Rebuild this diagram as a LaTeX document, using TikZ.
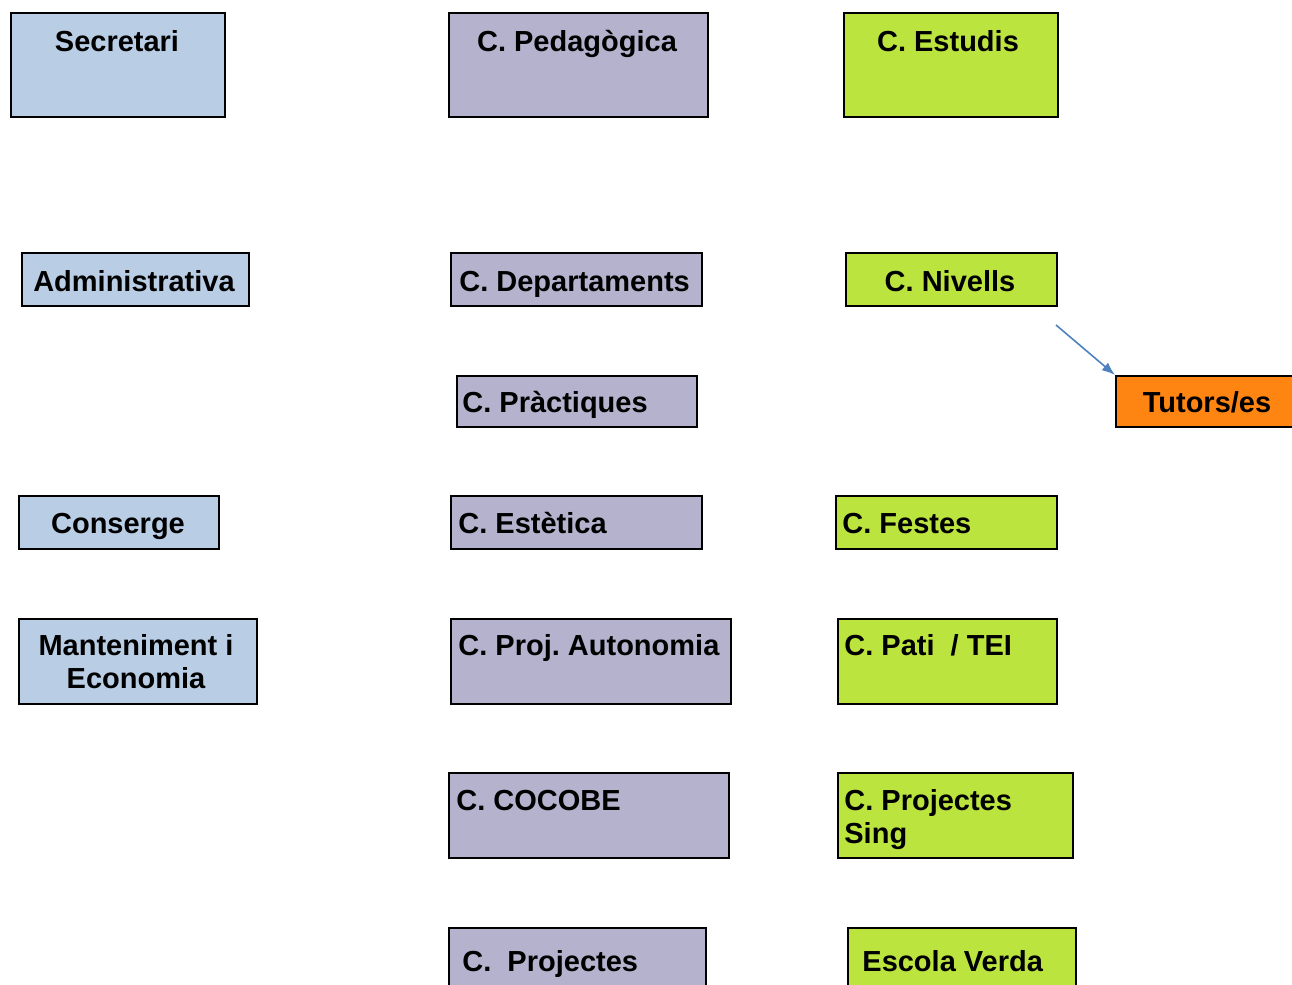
\documentclass[tikz,border=0pt]{standalone}
\usepackage{fontspec}
\setmainfont{Liberation Sans}
\usetikzlibrary{arrows.meta}
\frenchspacing

\definecolor{secblue}{RGB}{185,205,229}
\definecolor{pedlila}{RGB}{180,178,204}
\definecolor{estgreen}{RGB}{188,228,62}
\definecolor{tutorange}{RGB}{255,133,18}
\definecolor{arrblue}{RGB}{79,129,189}

\begin{document}
\begin{tikzpicture}[x=0.5pt, y=-0.5pt, >=Latex,
  bx/.style={draw=black, line width=1pt, anchor=north west, inner sep=0pt},
  lbl/.style={inner sep=0pt, font=\bfseries\fontsize{14.5}{16.5}\selectfont,
              text height=10.4pt, text depth=0pt},
  lbltwo/.style={inner sep=0pt, font=\bfseries\fontsize{14.5}{16.5}\selectfont}]

\def\px{0.5pt}

\useasboundingbox (0,0) rectangle (1292,985);
\clip (0,0) rectangle (1292,985);

% secretari
\node[bx, fill=secblue, minimum width=214*\px, minimum height=104*\px] (secr) at (10,12) {};
\node[lbl] (secrtxt) at (117,41) {Secretari};
\node[bx, fill=secblue, minimum width=227*\px, minimum height=53*\px] (admin) at (21,252) {};
\node[lbl] (admintxt) at (134,281) {Administrativa};
\node[bx, fill=secblue, minimum width=200*\px, minimum height=53*\px] (consg) at (18,495) {};
\node[lbl] (consgtxt) at (118,523) {Conserge};
\node[bx, fill=secblue, minimum width=238*\px, minimum height=85*\px] (mant) at (18,618) {};
\node[lbltwo, align=center] (manttxt) at (136,662) {Manteniment i\\Economia};

% comissio pedagogica
\node[bx, fill=pedlila, minimum width=259*\px, minimum height=104*\px] (peda) at (448,12) {};
\node[lbl] (pedatxt) at (577,41) {C. Pedagògica};
\node[bx, fill=pedlila, minimum width=251*\px, minimum height=53*\px] (dept) at (450,252) {};
\node[lbl, anchor=west] (depttxt) at (459,281) {C. Departaments};
\node[bx, fill=pedlila, minimum width=240*\px, minimum height=51*\px] (prac) at (456,375) {};
\node[lbl, anchor=west] (practxt) at (462,402) {C. Pràctiques};
\node[bx, fill=pedlila, minimum width=251*\px, minimum height=53*\px] (este) at (450,495) {};
\node[lbl, anchor=west] (estetxt) at (458,523) {C. Estètica};
\node[bx, fill=pedlila, minimum width=280*\px, minimum height=85*\px] (auto) at (450,618) {};
\node[lbl, anchor=west] (autotxt) at (458,645) {C. Proj. Autonomia};
\node[bx, fill=pedlila, minimum width=280*\px, minimum height=85*\px] (cocobe) at (448,772) {};
\node[lbl, anchor=west] (cocobetxt) at (456,800) {C. COCOBE};
\node[bx, fill=pedlila, minimum width=257*\px, minimum height=80*\px] (proj) at (448,927) {};
\node[lbl, anchor=west] (projtxt) at (462,961) {C.\ \ Projectes};

% comissio estudis
\node[bx, fill=estgreen, minimum width=214*\px, minimum height=104*\px] (estu) at (843,12) {};
\node[lbl] (estutxt) at (948,41) {C. Estudis};
\node[bx, fill=estgreen, minimum width=211*\px, minimum height=53*\px] (nive) at (845,252) {};
\node[lbl] (nivetxt) at (950,281) {C. Nivells};
\node[bx, fill=tutorange, minimum width=200*\px, minimum height=51*\px] (tuto) at (1115,375) {};
\node[lbl] (tutotxt) at (1207,402) {Tutors/es};
\node[bx, fill=estgreen, minimum width=221*\px, minimum height=53*\px] (fest) at (835,495) {};
\node[lbl, anchor=west] (festtxt) at (842,523) {C. Festes};
\node[bx, fill=estgreen, minimum width=219*\px, minimum height=85*\px] (pati) at (837,618) {};
\node[lbl, anchor=west] (patitxt) at (844,645) {C. Pati\ \ / TEI};
\node[bx, fill=estgreen, minimum width=235*\px, minimum height=85*\px] (sing) at (837,772) {};
\node[lbltwo, align=left, anchor=north west] (singtxt) at (844,789) {C. Projectes\\Sing};
\node[bx, fill=estgreen, minimum width=228*\px, minimum height=80*\px] (verd) at (847,927) {};
\node[lbl, anchor=west] (verdtxt) at (862,961) {Escola Verda};

\coordinate (nivefrom) at (1056,325);
\draw[->, arrblue, line width=0.8pt] (nivefrom) -- (tuto.north west);

\end{tikzpicture}
\end{document}
